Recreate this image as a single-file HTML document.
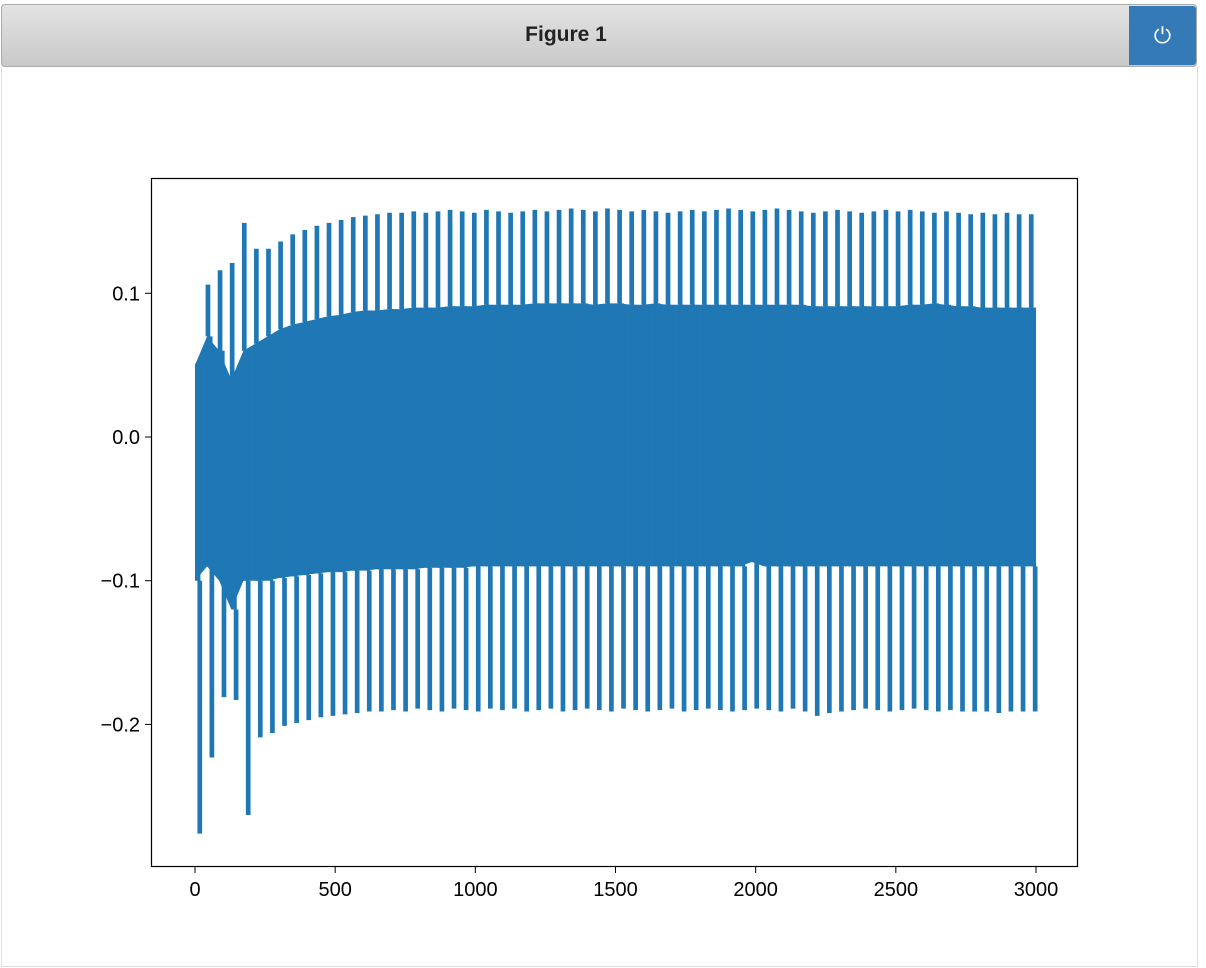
<!DOCTYPE html>
<html><head><meta charset="utf-8"><style>
body{margin:0;width:1206px;height:968px;background:#fff;overflow:hidden;font-family:"Liberation Sans",sans-serif}
#hdr{position:absolute;left:1px;top:4px;width:1194px;height:61px;border:1px solid #aaa;border-radius:4px;background:linear-gradient(#e3e3e3,#c9c9c9)}
#title{position:absolute;left:0;width:1128px;top:18px;text-align:center;font-weight:bold;font-size:21px;color:#222}
#pwr{position:absolute;left:1127px;top:1px;width:67px;height:59px;background:#337ab7;border-radius:0 3px 3px 0;color:#fff;font-size:22px;text-align:center;line-height:59px}
#canvasbox{position:absolute;left:1px;top:66px;width:1195px;height:900px;border:1px solid #ddd;border-top:none}
</style></head><body>
<div id="hdr"><div id="title">Figure 1</div><div id="pwr">⏻</div></div>
<div id="canvasbox"></div>
<svg id="chart" width="1206" height="968" style="position:absolute;left:0;top:0"></svg>
<script>
const tops=[0.05,0.105,0.115,0.12,0.148,0.13,0.13,0.135,0.14,0.143,0.146,0.148,0.15,0.152,0.153,0.154,0.155,0.155,0.156,0.155,0.156,0.157,0.156,0.155,0.157,0.156,0.155,0.156,0.157,0.156,0.157,0.158,0.157,0.156,0.158,0.157,0.156,0.157,0.156,0.155,0.156,0.157,0.156,0.157,0.158,0.157,0.156,0.157,0.158,0.157,0.156,0.155,0.156,0.157,0.156,0.155,0.156,0.157,0.156,0.157,0.156,0.155,0.156,0.155,0.154,0.155,0.154,0.155,0.154,0.154];
const bots=[-0.275,-0.222,-0.18,-0.182,-0.262,-0.208,-0.205,-0.2,-0.198,-0.196,-0.194,-0.193,-0.192,-0.191,-0.19,-0.19,-0.189,-0.19,-0.188,-0.189,-0.19,-0.188,-0.189,-0.19,-0.188,-0.189,-0.188,-0.19,-0.189,-0.188,-0.19,-0.189,-0.188,-0.189,-0.19,-0.188,-0.189,-0.19,-0.189,-0.188,-0.19,-0.189,-0.188,-0.189,-0.19,-0.189,-0.188,-0.189,-0.19,-0.188,-0.19,-0.193,-0.191,-0.19,-0.189,-0.188,-0.189,-0.19,-0.189,-0.188,-0.189,-0.19,-0.189,-0.19,-0.19,-0.19,-0.191,-0.19,-0.19,-0.19];
const bandTop=[0.05,0.07,0.06,0.04,0.06,0.065,0.07,0.075,0.078,0.08,0.082,0.084,0.085,0.087,0.088,0.088,0.089,0.089,0.09,0.09,0.09,0.091,0.091,0.091,0.092,0.092,0.092,0.092,0.093,0.093,0.093,0.093,0.093,0.092,0.093,0.093,0.092,0.092,0.093,0.092,0.092,0.092,0.092,0.092,0.092,0.092,0.092,0.092,0.092,0.092,0.092,0.091,0.091,0.091,0.091,0.091,0.091,0.091,0.091,0.092,0.092,0.093,0.092,0.091,0.091,0.09,0.09,0.09,0.09,0.09];
const bandBot=[-0.1,-0.09,-0.1,-0.12,-0.1,-0.1,-0.1,-0.098,-0.097,-0.096,-0.095,-0.094,-0.094,-0.093,-0.093,-0.092,-0.092,-0.092,-0.092,-0.091,-0.091,-0.091,-0.091,-0.09,-0.09,-0.09,-0.09,-0.09,-0.09,-0.09,-0.09,-0.09,-0.09,-0.09,-0.09,-0.09,-0.09,-0.09,-0.09,-0.09,-0.09,-0.09,-0.09,-0.09,-0.09,-0.09,-0.087,-0.09,-0.09,-0.09,-0.09,-0.09,-0.09,-0.09,-0.09,-0.09,-0.09,-0.09,-0.09,-0.09,-0.09,-0.09,-0.09,-0.09,-0.09,-0.09,-0.09,-0.09,-0.09,-0.09];
const xTicks=[0,500,1000,1500,2000,2500,3000];
const yTicks=[0.1,0.0,-0.1,-0.2];
const yLabels=["0.1","0.0","\u22120.1","\u22120.2"];
const xMax=3000;
const NS="http://www.w3.org/2000/svg";
const svg=document.getElementById('chart');
const X=v=>195+v*(841/3000);
const Y=v=>437-v*1437;
function mk(t,a){const e=document.createElementNS(NS,t);for(const k in a)e.setAttribute(k,a[k]);svg.appendChild(e);return e;}
const n=tops.length, step=(xMax-20)/(n-1);
let pts=[];
for(let i=0;i<n;i++)pts.push(X(i*step)+','+Y(bandTop[i]));
pts.push(X(xMax)+','+Y(bandTop[n-1]));
pts.push(X(xMax)+','+Y(bandBot[n-1]));
for(let i=n-1;i>=0;i--)pts.push(X(i*step)+','+Y(bandBot[i]));
const band=mk('polygon',{points:pts.join(' '),fill:'#1f77b4'});


for(let i=0;i<n;i++){
  const x=i*step;
  const d=`M${X(x)},${Y(bandTop[i])} L${X(x)},${Y(tops[i])} L${X(x+6)},${Y(tops[i])} L${X(x+6)},${Y(bandBot[i])} M${X(x+14)},${Y(bandTop[i])} L${X(x+14)},${Y(bots[i])} L${X(x+20)},${Y(bots[i])} L${X(x+20)},${Y(bandBot[i])}`;
  const p=mk('path',{d:d,stroke:'#1f77b4','stroke-width':3,fill:'none'});
  
  
}
const frame=mk('rect',{x:151.5,y:178.5,width:926,height:688,fill:'none',stroke:'#000','stroke-width':1.2});


xTicks.forEach(v=>{
  const l=mk('line',{x1:X(v),x2:X(v),y1:867,y2:873,stroke:'#000'});
  
  
  const t=mk('text',{x:X(v),y:896,'text-anchor':'middle','font-size':20,fill:'#000'});
  t.textContent=v;
  
  
});
yTicks.forEach((v,i)=>{
  const l=mk('line',{x1:145,x2:151,y1:Y(v),y2:Y(v),stroke:'#000'});
  
  
  const t=mk('text',{x:140,y:Y(v)+7,'text-anchor':'end','font-size':20,fill:'#000'});
  t.textContent=yLabels[i];
  
  
});
</script>
</body></html>
